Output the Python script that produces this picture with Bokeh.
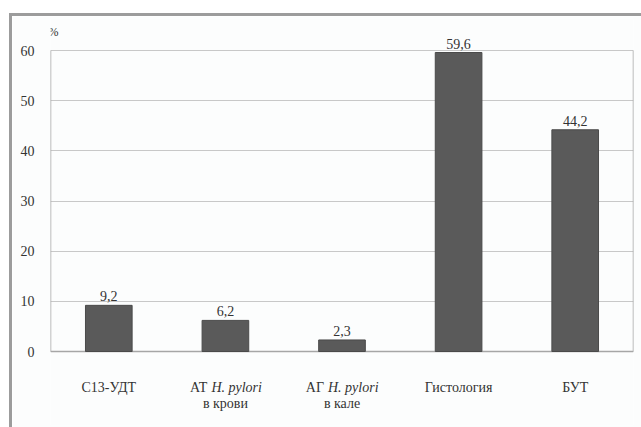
from bokeh.plotting import figure
from bokeh.models import ColumnDataSource, FactorRange
from bokeh.core.properties import value
from bokeh.embed import file_html
from bokeh.resources import INLINE

# ---- data ----
categories = ["C13-УДТ", "АТ H. pylori в крови", "АГ H. pylori в кале", "Гистология", "БУТ"]
values = [9.2, 6.2, 2.3, 59.6, 44.2]
value_texts = ["9,2", "6,2", "2,3", "59,6", "44,2"]
label_plain = ["C13-УДТ", "", "", "Гистология", "БУТ"]
label_prefix = ["", "АТ", "АГ", "", ""]
label_italic = ["", "H. pylori", "H. pylori", "", ""]
label_line2 = ["", "в крови", "в кале", "", ""]
y_ticks = [0, 10, 20, 30, 40, 50, 60]
y_unit = "%"

FONT_NAME = "Liberation Serif, Times New Roman, serif"
FONT = value(FONT_NAME)
TXT = "#333333"
EDGE = "#a6a6a6"

n = len(categories)
p = figure(
    x_range=FactorRange(factors=categories, range_padding=0),
    y_range=(-14.75, 66.38),
    width=629, height=411,
    frame_width=583, frame_height=407,
    min_border_left=38, min_border_top=2, min_border_right=8, min_border_bottom=2,
    output_backend="svg", toolbar_location=None,
    margin=(13, 0, 0, 9),
    styles={"border-top": "3px solid #9c9c9c", "border-left": "3px solid #9c9c9c"},
)
p.background_fill_color = "#fcfdfd"
p.border_fill_color = "#fcfdfd"
p.outline_line_color = None

src = ColumnDataSource(dict(cat=categories, val=values, vt=value_texts,
                            plain=label_plain, pre=label_prefix, ita=label_italic,
                            l2=label_line2,
                            y1=[-7.2] * n, y2=[-10.4] * n))

# axes
p.xaxis.visible = False
p.yaxis.ticker = y_ticks
p.yaxis.axis_line_color = None
p.yaxis.major_tick_line_color = None
p.yaxis.minor_tick_line_color = None
p.yaxis.major_label_text_font = FONT_NAME
p.yaxis.major_label_text_font_size = "14px"
p.yaxis.major_label_text_color = TXT
p.yaxis.major_label_standoff = 10

p.xgrid.grid_line_color = None
p.ygrid.grid_line_color = "#c8c8c8"
p.ygrid.grid_line_width = 1

# plot-area border (left / right / bottom)
p.segment(x0=[0, n, 0], y0=[y_ticks[0], y_ticks[0], y_ticks[0]],
          x1=[0, n, n], y1=[y_ticks[-1], y_ticks[-1], y_ticks[0]],
          line_color=EDGE, line_width=1.5)

p.vbar(x="cat", top="val", width=0.4, source=src,
       fill_color="#5a5a5a", line_color="#4a4a4a", line_width=1)

common = dict(source=src, text_font=FONT, text_font_size="14px", text_color=TXT)
p.text(x="cat", y="val", text="vt", text_align="center",
       text_baseline="middle", y_offset=-9, **common)
p.text(x="cat", y="y1", text="plain", text_align="center",
       text_baseline="middle", **common)
p.text(x="cat", y="y1", text="pre", text_align="right",
       text_baseline="middle", x_offset=-18, **common)
p.text(x="cat", y="y1", text="ita", text_align="left",
       text_baseline="middle", x_offset=-14, text_font_style="italic", **common)
p.text(x="cat", y="y2", text="l2", text_align="center",
       text_baseline="middle", **common)

p.text(x=[0], y=[63.6], text=[y_unit], text_align="left", text_baseline="middle",
       x_offset=-2, text_font=FONT, text_font_size="12px", text_color=TXT)

open("out.html", "w").write(file_html(p, INLINE))
